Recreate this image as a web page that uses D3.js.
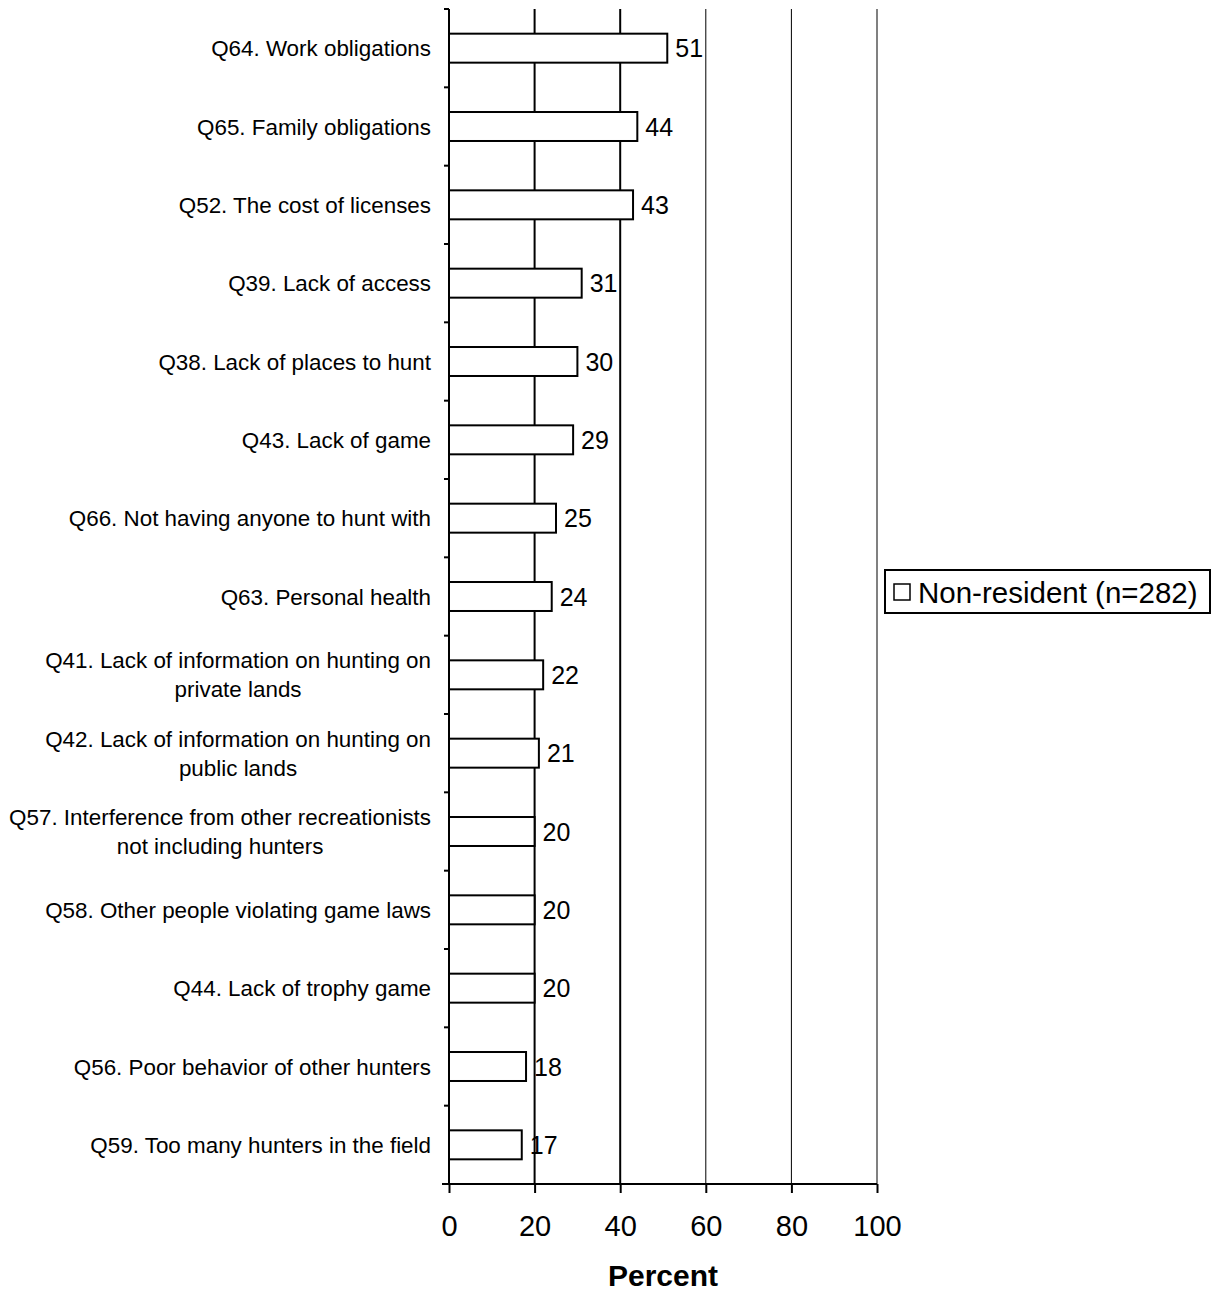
<!DOCTYPE html>
<html lang="en">
<head>
<meta charset="UTF-8">
<title>Non-resident constraints</title>
<style>
  body { margin: 0; background: #fff; }
  text { font-family: "Liberation Sans", Arial, sans-serif; fill: #000; }
</style>
</head>
<body>
<script src="https://cdn.jsdelivr.net/npm/d3@7/dist/d3.min.js"></script>
<script>

    var categories = [
        "Q64. Work obligations",
        "Q65. Family obligations",
        "Q52. The cost of licenses",
        "Q39. Lack of access",
        "Q38. Lack of places to hunt",
        "Q43. Lack of game",
        "Q66. Not having anyone to hunt with",
        "Q63. Personal health",
        "Q41. Lack of information on hunting on|private lands",
        "Q42. Lack of information on hunting on|public lands",
        "Q57. Interference from other recreationists|not including hunters",
        "Q58. Other people violating game laws",
        "Q44. Lack of trophy game",
        "Q56. Poor behavior of other hunters",
        "Q59. Too many hunters in the field"
    ];
    var values = [51, 44, 43, 31, 30, 29, 25, 24, 22, 21, 20, 20, 20, 18, 17];
    var xTicks = [0, 20, 40, 60, 80, 100];
    var seriesName = "Non-resident (n=282)";

    var width = 1214, height = 1292;
    var pLeft = 449, pRight = 877, pTop = 9, pBottom = 1184;

    var svg = d3.select("body").append("svg")
        .attr("width", width)
        .attr("height", height);

    var x = d3.scaleLinear().domain([0, 100]).range([pLeft, pRight]);
    var y = d3.scaleBand().domain(categories).range([pTop, pBottom]).paddingInner(0.63).paddingOuter(0.315);

    // gridlines
    svg.append("g").selectAll("line")
        .data(xTicks.slice(1, 5))
        .enter().append("line")
        .attr("x1", function(d){ return x(d); })
        .attr("x2", function(d){ return x(d); })
        .attr("y1", pTop).attr("y2", pBottom)
        .attr("stroke", "#000")
        .attr("stroke-width", function(d){ return d <= 40 ? 2 : 1; });

    // right border
    svg.append("line")
        .attr("x1", x(100)).attr("x2", x(100))
        .attr("y1", pTop).attr("y2", pBottom)
        .attr("stroke", "#808080").attr("stroke-width", 2);

    // bars
    svg.append("g").selectAll("rect")
        .data(values)
        .enter().append("rect")
        .attr("x", x(0))
        .attr("y", function(d, i){ return y(categories[i]); })
        .attr("width", function(d){ return x(d) - x(0); })
        .attr("height", y.bandwidth())
        .attr("fill", "#fff")
        .attr("stroke", "#000")
        .attr("stroke-width", 2);

    // value labels
    svg.append("g").selectAll("text")
        .data(values)
        .enter().append("text")
        .attr("x", function(d){ return x(d) + 8; })
        .attr("y", function(d, i){ return y(categories[i]) + y.bandwidth() / 2; })
        .attr("dy", "0.36em")
        .style("font-size", "25px")
        .text(function(d){ return d; });

    // x axis
    var xAxis = d3.axisBottom(x).tickValues(xTicks).tickSize(9).tickPadding(22);
    var gx = svg.append("g")
        .attr("transform", "translate(0," + pBottom + ")")
        .call(xAxis);
    gx.select(".domain").attr("stroke-width", 2).attr("d", "M" + (pLeft - 7) + ",0H" + pRight);
    gx.selectAll(".tick line").attr("stroke-width", 2);
    gx.selectAll(".tick text").style("font-size", "29px").attr("font-family", null);

    // y axis: ticks at band boundaries
    var yb = d3.range(15).map(function(i){ return pTop + i * (pBottom - pTop) / 15; });
    svg.append("line")
        .attr("x1", pLeft).attr("x2", pLeft)
        .attr("y1", pTop).attr("y2", pBottom)
        .attr("stroke", "#000").attr("stroke-width", 2);
    svg.append("g").selectAll("line")
        .data(yb)
        .enter().append("line")
        .attr("x1", pLeft - 5).attr("x2", pLeft)
        .attr("y1", function(d){ return d; })
        .attr("y2", function(d){ return d; })
        .attr("stroke", "#000").attr("stroke-width", 2);

    // category labels
    var labelRight = 431, lineH = 29, labelSize = "22.4px";
    var gl = svg.append("g");
    categories.forEach(function(c){
        var lines = c.split("|");
        var cy = y(c) + y.bandwidth() / 2;
        var t = gl.append("text").style("font-size", labelSize);
        if (lines.length === 1) {
            t.attr("x", labelRight).attr("y", cy).attr("dy", "0.36em")
                .attr("text-anchor", "end").text(lines[0]);
        } else {
            var probe = gl.append("text").style("font-size", labelSize).text(lines[0]);
            var w = probe.node().getComputedTextLength();
            probe.remove();
            var cx = labelRight - w / 2;
            lines.forEach(function(l, k){
                t.append("tspan")
                    .attr("x", cx)
                    .attr("y", cy + (k - (lines.length - 1) / 2) * lineH)
                    .attr("dy", "0.36em")
                    .attr("text-anchor", "middle")
                    .text(l);
            });
        }
    });

    // axis title
    svg.append("text")
        .attr("x", (pLeft + pRight) / 2)
        .attr("y", 1286)
        .attr("text-anchor", "middle")
        .style("font-size", "30px")
        .style("font-weight", "bold")
        .text("Percent");

    // legend
    var lg = svg.append("g");
    lg.append("rect")
        .attr("x", 885).attr("y", 570).attr("width", 325).attr("height", 43)
        .attr("fill", "#fff").attr("stroke", "#000").attr("stroke-width", 2);
    lg.append("rect")
        .attr("x", 894).attr("y", 584).attr("width", 16).attr("height", 16)
        .attr("fill", "#fff").attr("stroke", "#000").attr("stroke-width", 1.5);
    lg.append("text")
        .attr("x", 918).attr("y", 592).attr("dy", "0.36em")
        .style("font-size", "29.5px")
        .text(seriesName);

</script>
</body>
</html>
